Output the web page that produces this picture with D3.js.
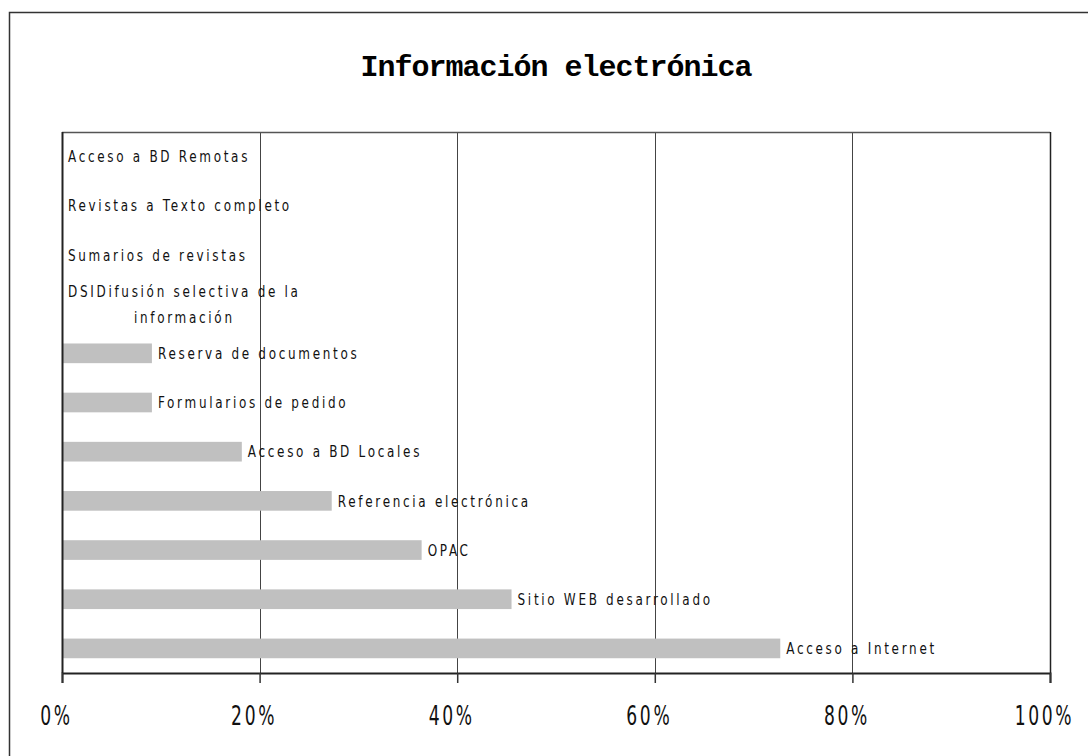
<!DOCTYPE html>
<html>
<head>
<meta charset="utf-8">
<script src="https://cdn.jsdelivr.net/npm/d3@7"></script>
<style>
  body { margin: 0; background: #fff; }
  svg { display: block; }
  .lbl { font-family: "DejaVu Sans", sans-serif; font-size: 16px; letter-spacing: 3.6px; fill: #111; }
  .tick-lbl { font-family: "DejaVu Sans", sans-serif; font-size: 26px; letter-spacing: 4px; fill: #111; }
  .title { font-family: "Liberation Mono", "DejaVu Sans Mono", monospace; font-weight: bold; font-size: 30px; letter-spacing: -1px; fill: #000; }
</style>
</head>
<body>
<div id="chart"></div>
<script>
// categories top to bottom (the first one sits at the top of the plot)
var categories = [
  "Acceso a BD Remotas",
  "Revistas a Texto completo",
  "Sumarios de revistas",
  "DSIDifusión selectiva de la|información",
  "Reserva de documentos",
  "Formularios de pedido",
  "Acceso a BD Locales",
  "Referencia electrónica",
  "OPAC",
  "Sitio WEB desarrollado",
  "Acceso a Internet"
];
var values = [0, 0, 0, 0, 0.091, 0.091, 0.182, 0.273, 0.364, 0.455, 0.727];
var tickValues = [0, 0.2, 0.4, 0.6, 0.8, 1.0];
var tickLabels = ["0%", "20%", "40%", "60%", "80%", "100%"];

var w = 1088, h = 756,
    p = {"top": 132, "right": 38, "left": 62, "bot": 83};
var narrow = 0.75; // squeeze text horizontally, the original font is a narrow one

var svg = d3.select("#chart").append("svg")
  .attr("width", w)
  .attr("height", h)

// outer frame (right and bottom edges fall outside the picture)
svg.append("rect")
  .attr("x", 9.5).attr("y", 12.5)
  .attr("width", w).attr("height", h)
  .attr("fill", "none")
  .attr("stroke", "#333")
  .attr("stroke-width", 1.5)

svg.append("text")
  .attr("class", "title")
  .attr("x", 556)
  .attr("y", 76)
  .attr("text-anchor", "middle")
  .text("Información electrónica")

var x = d3.scaleLinear()
  .domain([0, 1])
  .range([p.left, w - p.right])

var y = d3.scaleBand()
  .domain(categories)
  .range([p.top, h - p.bot])
  .paddingInner(0.6)
  .paddingOuter(0.3)

// gridlines
svg.selectAll(".grid")
  .data(tickValues.slice(1))
  .enter()
    .append("line")
      .attr("x1", function(d){ return Math.round(x(d)) + 0.5 })
      .attr("x2", function(d){ return Math.round(x(d)) + 0.5 })
      .attr("y1", p.top)
      .attr("y2", h - p.bot)
      .attr("stroke", "#444")
      .attr("stroke-width", 1)

// top border
svg.append("line")
  .attr("x1", p.left).attr("x2", w - p.right)
  .attr("y1", p.top + 0.5).attr("y2", p.top + 0.5)
  .attr("stroke", "#555").attr("stroke-width", 1.5)

// bars
svg.selectAll(".bar")
  .data(values)
  .enter()
    .append("rect")
      .attr("x", x(0))
      .attr("y", function(d, i){ return y(categories[i]) })
      .attr("width", function(d){ return x(d) - x(0) })
      .attr("height", y.bandwidth())
      .attr("fill", "#c0c0c0")

// bar labels
var labels = svg.selectAll(".lblg")
  .data(values)
  .enter()
    .append("g")
      .attr("transform", function(d, i){
        return "translate(" + (x(d) + 6) + "," + (y(categories[i]) + y.bandwidth() / 2) + ") scale(" + narrow + ",1)"
      })

labels.each(function(d, i){
  var lines = categories[i].split("|");
  var t = d3.select(this).append("text")
    .attr("class", "lbl")
    .attr("text-anchor", "middle")
    .attr("dominant-baseline", "central");
  var lineH = 26;
  lines.forEach(function(s, j){
    t.append("tspan")
      .attr("x", 0)
      .attr("y", (j - (lines.length - 1) / 2) * lineH)
      .text(s)
  })
  var bw = t.node().getBBox().width;
  t.selectAll("tspan").attr("x", bw / 2)
})

// axis lines
svg.append("line")
  .attr("x1", p.left + 0.5).attr("x2", p.left + 0.5)
  .attr("y1", p.top).attr("y2", h - p.bot)
  .attr("stroke", "#222").attr("stroke-width", 2)

svg.append("line")
  .attr("x1", Math.round(x(1)) + 0.5).attr("x2", Math.round(x(1)) + 0.5)
  .attr("y1", p.top).attr("y2", h - p.bot)
  .attr("stroke", "#222").attr("stroke-width", 1.5)

var xAxis = d3.axisBottom(x)
  .tickValues(tickValues)
  .tickSize(10)
  .tickFormat(function(d, i){ return tickLabels[i] })

var ax = svg.append("g")
  .attr("transform", "translate(0," + (h - p.bot) + ")")
  .call(xAxis)

ax.select(".domain").attr("stroke", "#222").attr("stroke-width", 2)
ax.selectAll(".tick line").attr("stroke", "#333").attr("stroke-width", 1.5)
ax.selectAll(".tick text")
  .attr("class", "tick-lbl")
  .attr("x", -6 / 0.66)
  .attr("y", 34)
  .attr("dy", "0.71em")
  .attr("transform", "scale(0.66,1)")
  .attr("font-family", null)
  .attr("font-size", null)
</script>
</body>
</html>
